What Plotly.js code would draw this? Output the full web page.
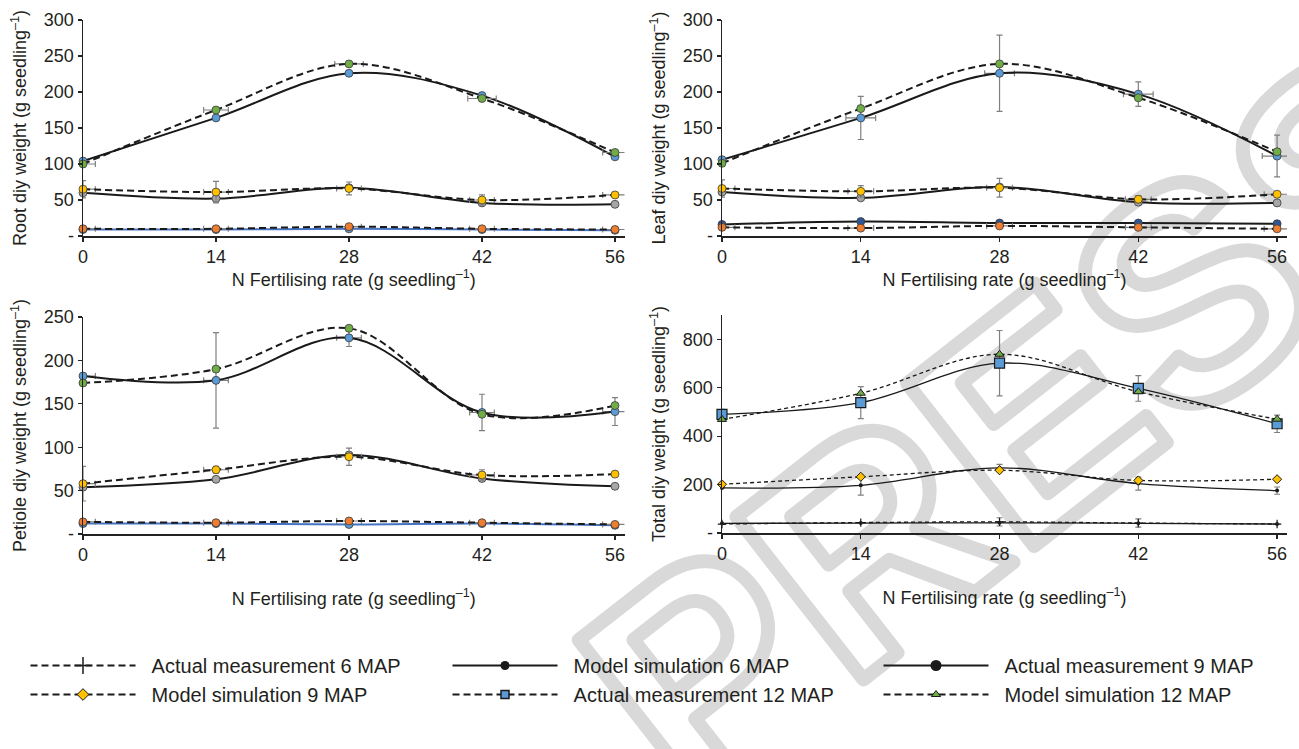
<!DOCTYPE html>
<html><head><meta charset="utf-8">
<script src="https://cdn.plot.ly/plotly-3.0.1.min.js"></script>
<style>html,body{margin:0;padding:0;background:#fff}</style>
</head><body><div id="chart" style="width:1299px;height:749px"></div>
<script>
// ---------- data ----------
const nRate = [0, 14, 28, 42, 56];
const xTickVals = [0, 14, 28, 42, 56];
const xTitle = 'N Fertilising rate (g seedling<sup>–1</sup>)';
const seriesNames = ['Actual measurement 6 MAP', 'Model simulation 9 MAP',
                     'Model simulation 6 MAP', 'Actual measurement 12 MAP',
                     'Actual measurement 9 MAP', 'Model simulation 12 MAP'];

// Root
const rootAct12 = [104, 164, 226, 195, 110];
const rootMod12 = [100, 175, 239, 191, 116];
const rootAct9  = [60, 52, 67, 46, 44];
const rootMod9  = [65, 61, 66, 50, 57];
const rootMod6  = [9, 9, 10, 9, 8];
const rootAct6  = [10, 10, 13, 10, 9];
const rootErrX12 = [1.3, 1.3, 1.5, 1.5, 1.3];
const rootErrY9  = [12, 15, 9, 7, 0];
const rootErrX9  = [1.3, 1.3, 1.3, 1.3, 1.3];
const rootErrX6  = [1.3, 1.3, 1.3, 1.3, 1.3];
// Leaf
const leafAct12 = [106, 164, 226, 197, 111];
const leafMod12 = [101, 177, 239, 192, 117];
const leafAct9  = [61, 53, 68, 47, 46];
const leafMod9  = [66, 62, 67, 51, 58];
const leafMod6  = [16, 20, 18, 18, 17];
const leafAct6  = [12, 11, 14, 12, 10];
const leafErrY12 = [0, 30, 53, 17, 29];
const leafErrX12 = [0, 1.5, 1.5, 1.5, 1.5];
const leafErrY9  = [12, 8, 13, 5, 0];
const leafErrX9  = [1.3, 1.3, 1.3, 1.3, 1.3];
const leafErrX6  = [1.3, 1.3, 1.3, 1.3, 1.3];
// Petiole
const petAct12 = [182, 177, 226, 140, 141];
const petMod12 = [174, 190, 237, 138, 148];
const petAct9  = [54, 63, 91, 64, 55];
const petMod9  = [58, 74, 89, 68, 69];
const petMod6  = [12, 12, 11, 12, 10];
const petAct6  = [14, 13, 15, 13, 11];
const petErrY12 = [0, 55, 10, 21, 16];
const petErrX12 = [1.3, 1.3, 1.3, 1.3, 1.3];
const petErrY9  = [20, 4, 10, 6, 0];
const petErrX9  = [1.3, 1.3, 1.3, 1.3, 0];
const petErrX6  = [1.3, 1.3, 1.3, 1.3, 1.3];
// Total
const totAct12 = [490, 538, 701, 597, 451];
const totMod12 = [469, 577, 738, 583, 470];
const totAct9  = [186, 197, 269, 204, 175];
const totMod9  = [201, 232, 259, 217, 222];
const totMod6  = [40, 41, 42, 40, 37];
const totAct6  = [37, 43, 46, 41, 37];
const totErrY12 = [20, 66, 135, 53, 36];
const totErrY9  = [0, 41, 14, 27, 15];
const totErrY6  = [0, 0, 17, 17, 0];

// ---------- styles ----------
const BLACK = '#1a1a1a', EDGE = '#3a3a3a', ERR = '#7f7f7f';
const C = {blue: '#5b9bd5', green: '#70ad47', gray: '#a6a6a6', yellow: '#ffc000',
           orange: '#ed7d31', navy: '#2f5597', lineBlue: '#4472c4'};
const DASH = '7px,4px', FINEDASH = '4px,3px';

function errObj(arr) {
  return arr ? {type: 'data', array: arr, visible: true, color: ERR, thickness: 1.2, width: 3} : {visible: false};
}
function tr(xa, ya, y, o) {
  return {
    type: 'scatter', mode: 'lines+markers', x: nRate, y: y, xaxis: xa, yaxis: ya,
    showlegend: false, hoverinfo: 'skip', cliponaxis: false,
    line: {color: o.lc || BLACK, width: o.lw || 2, dash: o.dash || 'solid', shape: 'spline', smoothing: 1},
    marker: {symbol: o.sym || 'circle', size: o.ms || 8, color: o.mc,
             line: {color: o.ec || EDGE, width: o.ew === undefined ? 0.8 : o.ew}},
    error_x: errObj(o.ex), error_y: errObj(o.ey)
  };
}
function panelTraces(xa, ya, a12, m12, a9, m9, m6, a6, e, lowSolidBlue, lowMarker) {
  return [
    tr(xa, ya, m6, {mc: lowMarker, lc: lowSolidBlue ? C.lineBlue : BLACK}),
    tr(xa, ya, a6, {mc: C.orange, dash: DASH, ex: e.ex6}),
    tr(xa, ya, a9, {mc: C.gray}),
    tr(xa, ya, m9, {mc: C.yellow, dash: DASH, ex: e.ex9, ey: e.ey9}),
    tr(xa, ya, a12, {mc: C.blue, ex: e.ex12, ey: e.ey12}),
    tr(xa, ya, m12, {mc: C.green, dash: DASH, ex: e.mx12})
  ];
}

let data = [];
data = data.concat(panelTraces('x', 'y', rootAct12, rootMod12, rootAct9, rootMod9, rootMod6, rootAct6,
  {mx12: rootErrX12, ey9: rootErrY9, ex9: rootErrX9, ex6: rootErrX6}, true, C.blue));
data = data.concat(panelTraces('x2', 'y2', leafAct12, leafMod12, leafAct9, leafMod9, leafMod6, leafAct6,
  {ex12: leafErrX12, ey12: leafErrY12, ey9: leafErrY9, ex9: leafErrX9, ex6: leafErrX6}, false, C.navy));
data = data.concat(panelTraces('x3', 'y3', petAct12, petMod12, petAct9, petMod9, petMod6, petAct6,
  {ex12: petErrX12, ey12: petErrY12, ey9: petErrY9, ex9: petErrX9, ex6: petErrX6}, true, C.blue));

// Total panel
data.push(tr('x4', 'y4', totMod6, {mc: BLACK, sym: 'circle', ms: 4, lw: 1.3, ec: BLACK, ew: 0}));
data.push(tr('x4', 'y4', totAct6, {mc: BLACK, sym: 'cross-thin', ms: 6, lw: 1.3, dash: FINEDASH, ec: BLACK, ew: 1.2, ey: totErrY6}));
data.push(tr('x4', 'y4', totAct9, {mc: BLACK, sym: 'circle', ms: 4, lw: 1.3, ec: BLACK, ew: 0, ey: totErrY9}));
data.push(tr('x4', 'y4', totMod9, {mc: C.yellow, sym: 'diamond', ms: 7, lw: 1.3, dash: FINEDASH, ec: BLACK, ew: 1}));
data.push(tr('x4', 'y4', totAct12, {mc: C.blue, sym: 'square', ms: 10, lw: 1.3, ec: BLACK, ew: 1.2, ey: totErrY12}));
data.push(tr('x4', 'y4', totMod12, {mc: C.green, sym: 'triangle-up', ms: 8, lw: 1.3, dash: FINEDASH, ec: BLACK, ew: 1}));

// legend-only traces (three legend columns)
const legStyles = [
  {dash: DASH, sym: 'cross-thin', ms: 12, mc: BLACK, ec: BLACK, ew: 1.5},
  {dash: DASH, sym: 'diamond', ms: 9, mc: C.yellow, ec: BLACK, ew: 1},
  {dash: 'solid', sym: 'circle', ms: 9, mc: BLACK, ec: BLACK, ew: 0},
  {dash: DASH, sym: 'square', ms: 8, mc: C.blue, ec: BLACK, ew: 1.5},
  {dash: 'solid', sym: 'circle', ms: 11, mc: BLACK, ec: BLACK, ew: 0},
  {dash: DASH, sym: 'triangle-up', ms: 8, mc: C.green, ec: BLACK, ew: 1}
];
const legIds = ['legend', 'legend', 'legend2', 'legend2', 'legend3', 'legend3'];
seriesNames.forEach((nm, i) => {
  const s = legStyles[i];
  data.push({type: 'scatter', mode: 'lines+markers', x: [null], y: [null], xaxis: 'x4', yaxis: 'y4',
    name: '\u00a0\u00a0' + nm, showlegend: true, legend: legIds[i], hoverinfo: 'skip',
    line: {color: BLACK, width: 2.2, dash: s.dash},
    marker: {symbol: s.sym, size: s.ms, color: s.mc, line: {color: s.ec, width: s.ew}}});
});

// ---------- layout ----------
const W = 1299, H = 749;
const FONT = 'Liberation Sans, Arial, sans-serif';
const TXT = '#231f20';
function px(a, b) { return [a / W, b / W]; }
function py(top, bottom) { return [1 - bottom / H, 1 - top / H]; }
function xAx(dom, anchor, standoff) {
  return {domain: dom, anchor: anchor, range: [0, 57], tickvals: xTickVals, ticks: 'outside', ticklen: 4,
    tickwidth: 1.2, tickcolor: '#222', showline: true, linecolor: '#222', linewidth: 1.5,
    showgrid: false, zeroline: false, tickfont: {size: 18, color: TXT, family: FONT},
    title: {text: xTitle, font: {size: 18, color: TXT, family: FONT}, standoff: standoff}};
}
function yAx(dom, anchor, range, vals, title) {
  return {domain: dom, anchor: anchor, range: range, tickvals: vals,
    ticktext: vals.map(v => v === 0 ? '-' : String(v)), ticks: 'outside', ticklen: 4, tickwidth: 1.2,
    tickcolor: '#222', showline: true, linecolor: '#222', linewidth: 1.5, showgrid: false, zeroline: false,
    tickfont: {size: 18, color: TXT, family: FONT},
    title: {text: title, font: {size: 18, color: TXT, family: FONT}, standoff: 12}};
}
function legendAt(xpx) {
  return {orientation: 'v', x: xpx / W, xanchor: 'left', y: 1 - 646 / H, yanchor: 'top',
    itemwidth: 105, bgcolor: 'rgba(0,0,0,0)', borderwidth: 0, tracegroupgap: 0,
    font: {size: 20, color: TXT, family: FONT}, traceorder: 'normal'};
}
const L = px(83, 624.5), R = px(722, 1287);
const yTicks300 = [0, 50, 100, 150, 200, 250, 300];
const yTicks250 = [0, 50, 100, 150, 200, 250];
const yTicks900 = [0, 200, 400, 600, 800];

const wm = "<svg xmlns='http://www.w3.org/2000/svg' width='1299' height='749'>" +
  "<text transform='translate(690,815) rotate(-38)' font-family='Liberation Sans, Arial' font-weight='bold' " +
  "font-size='300' fill='none' stroke='#d9d9d9' stroke-width='14' stroke-linejoin='round'>PRESS</text></svg>";

const layout = {
  width: W, height: H, margin: {l: 0, r: 0, t: 0, b: 0},
  paper_bgcolor: '#ffffff', plot_bgcolor: 'rgba(0,0,0,0)',
  font: {family: FONT, color: TXT, size: 18},
  xaxis: xAx(L, 'y', 6), yaxis: yAx(py(20, 236), 'x', [0, 300], yTicks300, 'Root diy weight (g seedling<sup>–1</sup>)'),
  xaxis2: xAx(R, 'y2', 6), yaxis2: yAx(py(20, 236), 'x2', [0, 300], yTicks300, 'Leaf diy weight (g seedling<sup>–1</sup>)'),
  xaxis3: xAx(L, 'y3', 28), yaxis3: yAx(py(317, 534), 'x3', [0, 250], yTicks250, 'Petiole diy weight (g seedling<sup>–1</sup>)'),
  xaxis4: xAx(R, 'y4', 28), yaxis4: yAx(py(315, 533), 'x4', [0, 900], yTicks900, 'Total diy weight (g seedling<sup>–1</sup>)'),
  showlegend: true,
  legend: legendAt(25.5), legend2: legendAt(447.5), legend3: legendAt(878.5),
  images: [{source: 'data:image/svg+xml;charset=utf-8,' + encodeURIComponent(wm), xref: 'paper', yref: 'paper',
    x: 0, y: 1, sizex: 1, sizey: 1, xanchor: 'left', yanchor: 'top', sizing: 'stretch', layer: 'below'}]
};

Plotly.newPlot('chart', data, layout, {staticPlot: true, displayModeBar: false});
</script></body></html>
